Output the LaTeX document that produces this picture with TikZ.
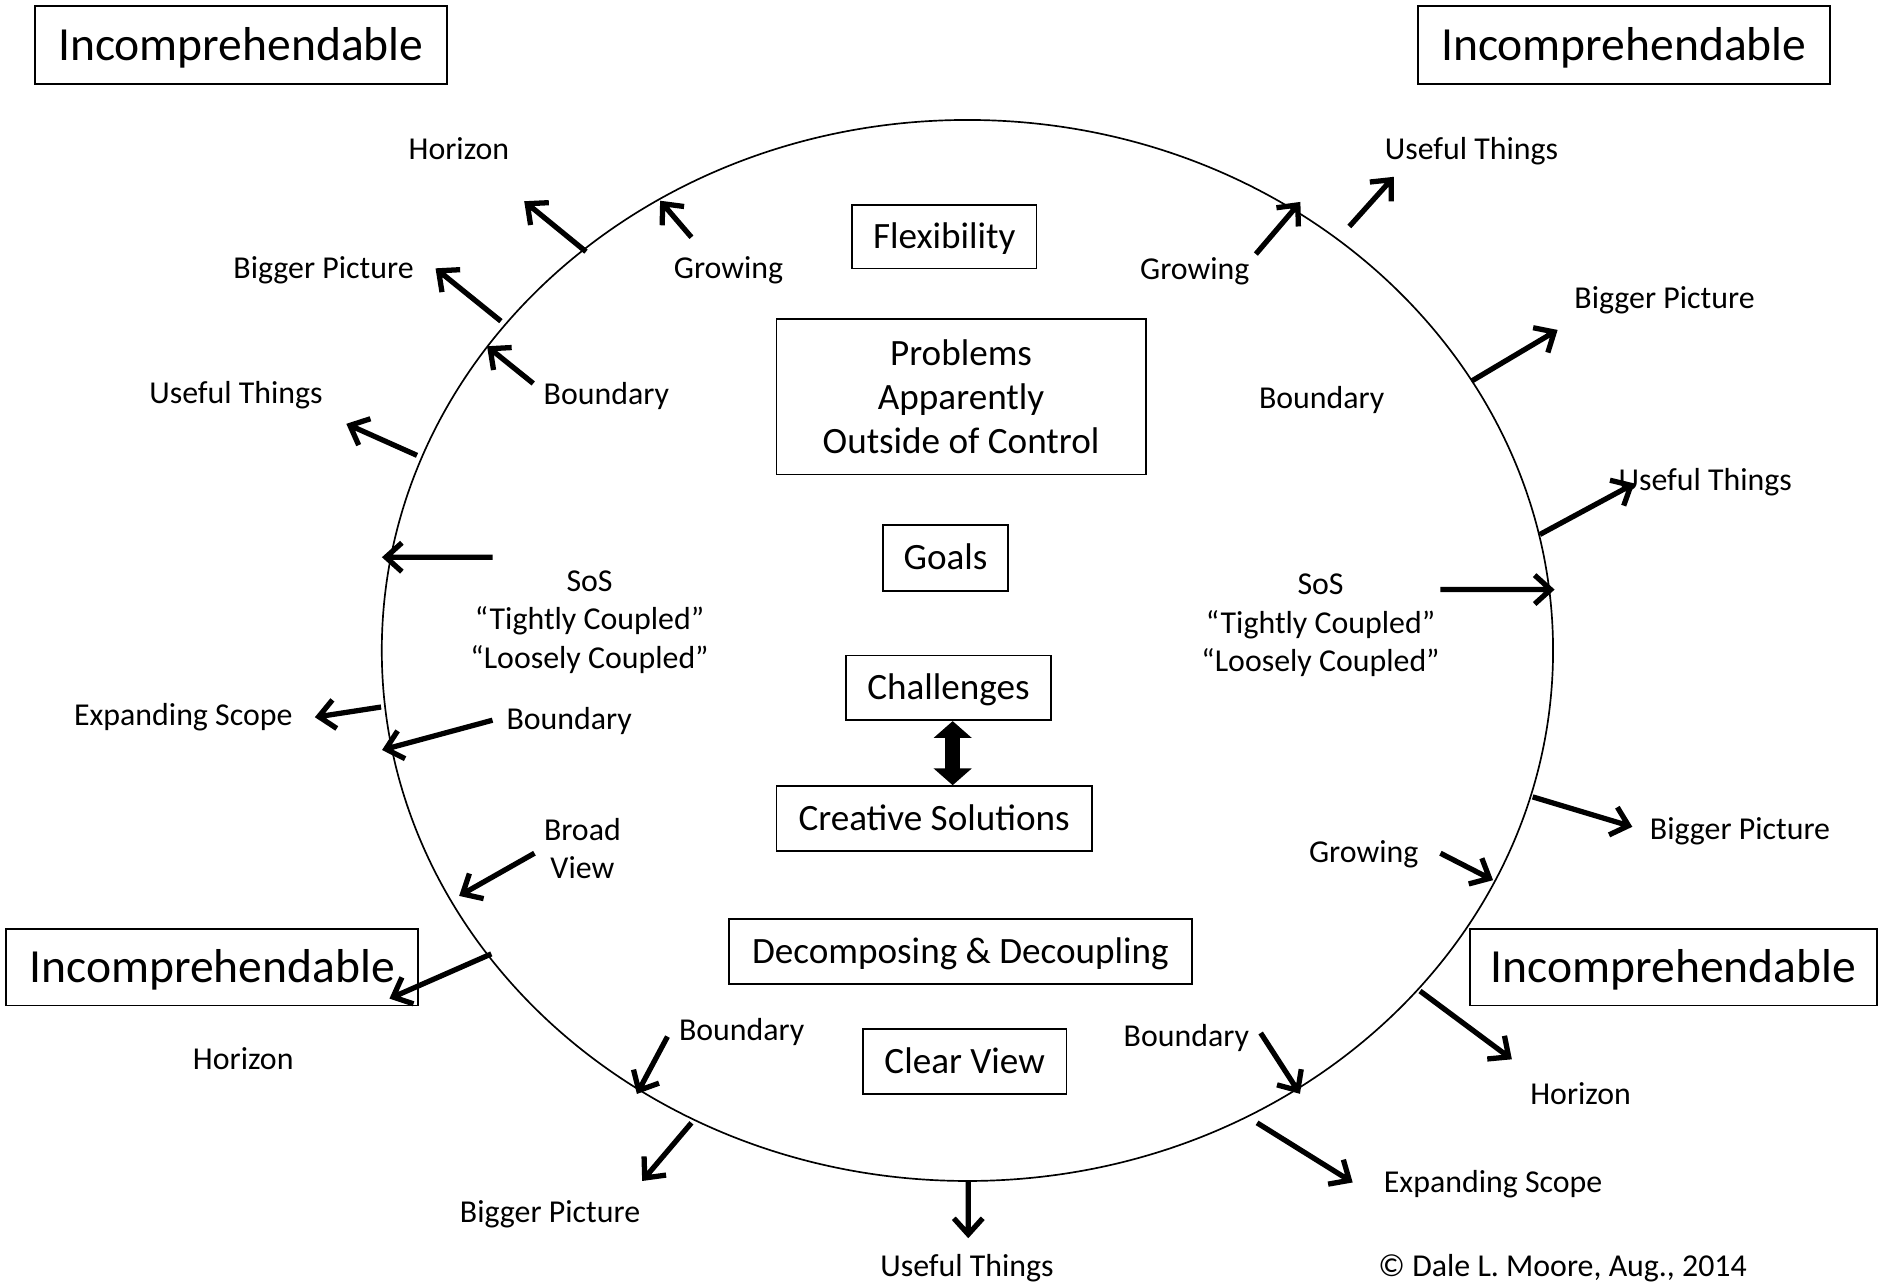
\documentclass[tikz,border=0pt]{standalone}
\usepackage{fontspec}
\setmainfont{Carlito}
\usetikzlibrary{arrows.meta,calc}
\begin{document}
\begin{tikzpicture}[x=1pt,y=-1pt,
  boxed/.style={draw, line width=1.5pt, inner sep=0pt, align=center},
  bigtext/.style={font=\fontsize{39.7}{48}\selectfont, text height=25.4pt, text depth=0pt},
  midtext/.style={font=\fontsize{31}{37}\selectfont},
  midone/.style={midtext, text height=19.8pt, text depth=0pt},
  lbl/.style={inner sep=0pt, align=center, font=\fontsize{26.6}{32}\selectfont},
  single/.style={text height=17pt, text depth=0pt},
  outarrow/.style={line width=4.4pt, line join=miter, miter limit=4},
  twoway/.style={line width=13pt,
    {Triangle[length=14pt,width=31pt]}-{Triangle[length=14pt,width=31pt]}}
]
\useasboundingbox (0,0) rectangle (1568,1070);
\fill[white] (0,0) rectangle (1568,1070);

% the system boundary
\draw[line width=1.4pt] (807.3,542.8) ellipse [x radius=488.7, y radius=442.7];

% corner boxes
\node[boxed,bigtext,minimum width=344pt,minimum height=65pt] (incTL) at (201,37.5) {Incomprehendable};
\node[boxed,bigtext,minimum width=344pt,minimum height=65pt] (incTR) at (1355,37.5) {Incomprehendable};
\node[boxed,bigtext,minimum width=344pt,minimum height=64pt] (incBL) at (177,807) {Incomprehendable};
\node[boxed,bigtext,minimum width=339pt,minimum height=64pt] (incBR) at (1396.5,807) {Incomprehendable};

% central boxes
\node[boxed,midone,minimum width=154pt,minimum height=53pt] (flex) at (788,197.5) {Flexibility};
\node[boxed,midtext,minimum width=308pt,minimum height=130pt] (prob) at (802,331) {Problems\\Apparently\\Outside of Control};
\node[boxed,midone,minimum width=104pt,minimum height=55pt] (goals) at (789,465.5) {Goals};
\node[boxed,midone,minimum width=171pt,minimum height=54pt] (chal) at (791.5,574) {Challenges};
\node[boxed,midone,minimum width=263pt,minimum height=54pt] (creat) at (779.5,683) {Creative Solutions};
\node[boxed,midone,minimum width=387pt,minimum height=54pt] (decomp) at (801.5,794) {Decomposing \& Decoupling};
\node[boxed,midone,minimum width=170pt,minimum height=54pt] (clear) at (805,886) {Clear View};

\draw[twoway] ([xshift=3.5pt]chal.south) -- ([xshift=15.5pt]creat.north);

% labels around the boundary
\node[lbl,single] (hTL) at (383,125) {Horizon};
\node[lbl,single] (gTL) at (608,224) {Growing};
\node[lbl,single] (bpTL) at (270,224) {Bigger Picture};
\node[lbl,single] (bdLU) at (506,329) {Boundary};
\node[lbl,single] (utL) at (197,328) {Useful Things};
\node[lbl] (sosL) at (492,519) {SoS\\“Tightly Coupled”\\“Loosely Coupled”};
\node[lbl,single] (esL) at (153,597) {Expanding Scope};
\node[lbl,single] (bdLL) at (475,600) {Boundary};
\node[lbl] (bv) at (486,708) {Broad\\View};
\node[lbl,single] (hBL) at (203,884) {Horizon};
\node[lbl,single] (bdBL) at (619,860) {Boundary};
\node[lbl,single] (bpB) at (459,1012) {Bigger Picture};
\node[lbl,single] (utB) at (807,1057) {Useful Things};
\node[lbl,single] (bdBR) at (990,865) {Boundary};
\node[lbl,single] (esBR) at (1246,987) {Expanding Scope};
\node[lbl,single] (hBR) at (1319,913) {Horizon};
\node[lbl,single] (copy) at (1304,1057) {© Dale L. Moore, Aug., 2014};
\node[lbl,single] (gR) at (1138,711) {Growing};
\node[lbl,single] (bpRL) at (1452,692) {Bigger Picture};
\node[lbl] (sosR) at (1102,522) {SoS\\“Tightly Coupled”\\“Loosely Coupled”};
\node[lbl,single] (utR) at (1423,401) {Useful Things};
\node[lbl,single] (bdR) at (1103,332) {Boundary};
\node[lbl,single] (bpRU) at (1389,249) {Bigger Picture};
\node[lbl,single] (gTR) at (997,225) {Growing};
\node[lbl,single] (utTR) at (1228,125) {Useful Things};

% arrow end points
\coordinate (s1) at (489,210);   \coordinate (e1) at (440,170);
\coordinate (s2) at (577,198);   \coordinate (e2) at (553,170);
\coordinate (s3) at (418,268);   \coordinate (e3) at (366,226);
\coordinate (s4) at (445,320);   \coordinate (e4) at (409,291);
\coordinate (s5) at (348,380);   \coordinate (e5) at (292,355);
\coordinate (s6) at (411,465);   \coordinate (e6) at (322,465);
\coordinate (s7) at (318,590);   \coordinate (e7) at (266,598);
\coordinate (s8) at (411,601);   \coordinate (e8) at (322,625);
\coordinate (s9) at (446,712);   \coordinate (e9) at (386,746);
\coordinate (s10) at (410,796);  \coordinate (e10) at (328,832);
\coordinate (s11) at (557,865);  \coordinate (e11) at (533,910);
\coordinate (s12) at (577,937);  \coordinate (e12) at (538,983);
\coordinate (s13) at (808,986);  \coordinate (e13) at (808,1030);
\coordinate (s14) at (1052,862); \coordinate (e14) at (1083,910);
\coordinate (s15) at (1049,937); \coordinate (e15) at (1126,985);
\coordinate (s16) at (1185,827); \coordinate (e16) at (1259,882);
\coordinate (s17) at (1202,712); \coordinate (e17) at (1243,733);
\coordinate (s18) at (1279,665); \coordinate (e18) at (1359,689);
\coordinate (s19) at (1202,492); \coordinate (e19) at (1294,492);
\coordinate (s20) at (1285,446); \coordinate (e20) at (1361,405);
\coordinate (s21) at (1228,318); \coordinate (e21) at (1297,277);
\coordinate (s22) at (1048,212); \coordinate (e22) at (1083,171);
\coordinate (s23) at (1126,189); \coordinate (e23) at (1161,150);

% shaft plus open chevron head
\foreach \i in {1,...,23}
  \draw[outarrow] (s\i) -- (e\i)
    ($(e\i)!18pt!42:(s\i)$) -- (e\i) -- ($(e\i)!18pt!-42:(s\i)$);
\end{tikzpicture}
\end{document}
